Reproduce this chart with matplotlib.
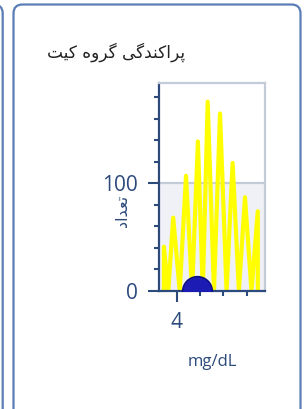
import matplotlib
matplotlib.use("Agg")
import matplotlib.pyplot as plt
from matplotlib.patches import FancyBboxPatch
from matplotlib.ticker import FixedLocator

# chart data
title_text = "پراکندگی گروه کیت"
y_label_text = "تعداد"
x_label_text = "mg/dL"
peak_x = [3.45, 3.85, 4.40, 4.91, 5.33, 5.86, 6.40, 6.93, 7.48]
peak_counts = [41, 68, 107, 139, 176, 165, 119, 87, 74]
# where the line touches zero: before the first peak, between peaks, after the last
trough_x = [3.45, 3.64, 4.13, 4.66, 5.12, 5.60, 6.14, 6.67, 7.21, 7.48]
marker_x = [4.86]
marker_y = [0]
x_major = [4]
x_minor = [5, 6, 7]
y_major = [0, 100]
y_minor = [20, 40, 60, 80, 120, 140, 160, 180]

# matplotlib has no arabic shaping, so pick contextual forms by hand
# letter: (isolated, final, initial, medial), None where the form does not exist
FORMS = {
    "پ": ("\uFB56", "\uFB57", "\uFB58", "\uFB59"),
    "ر": ("\uFEAD", "\uFEAE", None, None),
    "ا": ("\uFE8D", "\uFE8E", None, None),
    "ک": ("\uFB8E", "\uFB8F", "\uFB90", "\uFB91"),
    "ن": ("\uFEE5", "\uFEE6", "\uFEE7", "\uFEE8"),
    "د": ("\uFEA9", "\uFEAA", None, None),
    "گ": ("\uFB92", "\uFB93", "\uFB94", "\uFB95"),
    "ی": ("\uFBFC", "\uFBFD", "\uFBFE", "\uFBFF"),
    "و": ("\uFEED", "\uFEEE", None, None),
    "ه": ("\uFEE9", "\uFEEA", "\uFEEB", "\uFEEC"),
    "ت": ("\uFE95", "\uFE96", "\uFE97", "\uFE98"),
    "ع": ("\uFEC9", "\uFECA", "\uFECB", "\uFECC"),
}

def joins_next(ch):
    return ch in FORMS and FORMS[ch][2] is not None

def shape_fa(text):
    out = []
    for i, ch in enumerate(text):
        if ch not in FORMS:
            out.append(ch)
            continue
        prev_ch = text[i - 1] if i > 0 else " "
        next_ch = text[i + 1] if i + 1 < len(text) else " "
        from_prev = joins_next(prev_ch)
        to_next = joins_next(ch) and next_ch in FORMS
        iso, fin, ini, med = FORMS[ch]
        if from_prev and to_next:
            out.append(med)
        elif from_prev:
            out.append(fin)
        elif to_next:
            out.append(ini)
        else:
            out.append(iso)
    return "".join(reversed(out))  # right to left

W, H = 307, 409
fig = plt.figure(figsize=(W / 100, H / 100), dpi=100)
fig.patch.set_facecolor("white")

# background axes in pixel units for the card frames
bg = fig.add_axes([0, 0, 1, 1])
bg.set_xlim(0, W)
bg.set_ylim(H, 0)
bg.axis("off")
card_col = "#5a7db6"
bg.add_patch(FancyBboxPatch((13.5, 4.5), 287, 450, boxstyle="round,pad=0,rounding_size=9",
                            fill=False, edgecolor=card_col, linewidth=1.6))
bg.add_patch(FancyBboxPatch((-300, 4.5), 302.7, 450, boxstyle="round,pad=0,rounding_size=9",
                            fill=False, edgecolor=card_col, linewidth=1.6))

ax = fig.add_axes([159 / W, 1 - 290.7 / H, 106 / W, 207.7 / H])
ax.set_xlim(3.24, 7.79)
ax.set_ylim(0, 193.4)
ax.set_facecolor("white")
ax.axhspan(0, 100, color="#eff1f6", zorder=0)
ax.axhline(100, color="#c3cbd8", linewidth=1.6, zorder=1)

# zig-zag line: zero, peak, zero, peak ... zero
xs, ys = [trough_x[0]], [0]
for i, (px, cnt) in enumerate(zip(peak_x, peak_counts)):
    xs += [px, trough_x[i + 1]]
    ys += [cnt, 0]
ax.plot(xs, ys, color="#ffff00", linewidth=3.0, solid_joinstyle="round", zorder=2)

ax.plot(marker_x, marker_y, "o", markersize=21.5, markerfacecolor="#1c1cb4",
        markeredgecolor="#0b0b7a", markeredgewidth=1.0, zorder=3, clip_on=True)

axis_col = "#2d4a7c"
for side in ["left", "bottom"]:
    ax.spines[side].set_color(axis_col)
    ax.spines[side].set_linewidth(1.6)
for side in ["top", "right"]:
    ax.spines[side].set_color("#c3cbd8")
    ax.spines[side].set_linewidth(1.6)

ax.xaxis.set_major_locator(FixedLocator(x_major))
ax.xaxis.set_minor_locator(FixedLocator(x_minor))
ax.yaxis.set_major_locator(FixedLocator(y_major))
ax.yaxis.set_minor_locator(FixedLocator(y_minor))
ax.tick_params(which="major", length=8, width=1.5, color=axis_col, pad=7,
               labelsize=15, labelcolor=axis_col)
ax.tick_params(which="minor", length=3.6, width=1.5, color=axis_col)
for lab in ax.get_xticklabels() + ax.get_yticklabels():
    lab.set_fontfamily("Open Sans")

fig.text(116 / W, 1 - 52 / H, shape_fa(title_text), ha="center", va="center",
         fontsize=12.2, color="#222222", family=["DejaVu Sans"])
fig.text(123 / W, 1 - 211 / H, shape_fa(y_label_text), ha="center", va="center",
         rotation=90, fontsize=11.5, color=axis_col, family=["DejaVu Sans"])
fig.text(212.5 / W, 1 - 362 / H, x_label_text, ha="center", va="center",
         fontsize=12, color=axis_col, family="Open Sans")

fig.savefig("out.png", dpi=100)
